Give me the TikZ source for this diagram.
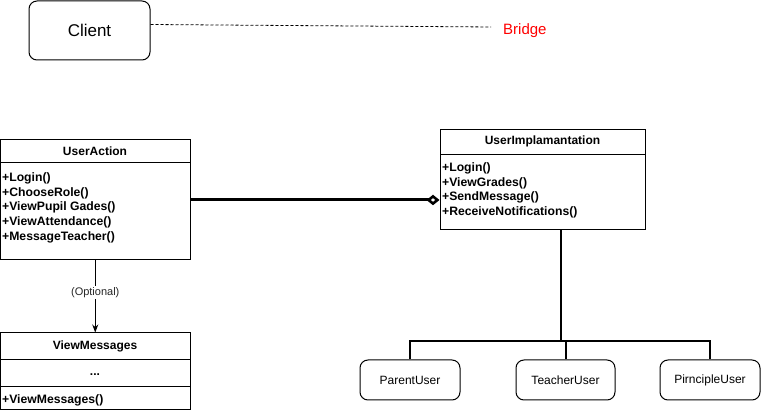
\documentclass[tikz,border=0pt]{standalone}
\usepackage{fontspec}
\setmainfont{Liberation Sans}
\usetikzlibrary{arrows.meta}
\definecolor{bridgered}{RGB}{255,0,0}
\begin{document}
\begin{tikzpicture}[x=1pt,y=-1pt,
  classbox/.style={draw=black,line width=1pt,rectangle,inner sep=0pt},
  roundbox/.style={draw=black,line width=1pt,rectangle,rounded corners=8pt,inner sep=0pt,font=\fontsize{12}{14}\selectfont},
  classtitle/.style={font=\fontsize{12}{14}\selectfont\bfseries,inner sep=0pt},
  methods/.style={font=\fontsize{12.2}{14.7}\selectfont\bfseries,align=left,inner sep=0pt,anchor=north west},
  divider/.style={line width=1pt},
  thickline/.style={line width=3pt},
  treeline/.style={line width=2pt}
]
\useasboundingbox (0,0) rectangle (761,411);

% Client and Bridge
\node[roundbox,minimum width=121pt,minimum height=59pt,font=\fontsize{17}{20}\selectfont] (client) at (89.5,30.5) {Client};
\node[text=bridgered,font=\fontsize{15}{18}\selectfont,anchor=west,inner sep=0pt] (bridge) at (503,31) {Bridge};
\coordinate (bridgeend) at (491,27);
\draw[dashed,line width=0.8pt,dash pattern=on 3pt off 2pt] (client.east) ++(0,-6) -- (bridgeend);

% UserAction
\node[classbox,minimum width=189.5pt,minimum height=120pt] (ua) at (95.25,200) {};
\draw[divider] (0.5,163) -- (190,163);
\node[classtitle] (uatitle) at (95,151.5) {UserAction};
\node[methods] (uamethods) at (2,172.5) {+Login()\\+ChooseRole()\\+ViewPupil Gades()\\+ViewAttendance()\\+MessageTeacher()};

% UserImplamantation
\node[classbox,minimum width=205pt,minimum height=100pt] (ui) at (542.5,180) {};
\draw[divider] (440,155) -- (645,155);
\node[classtitle] (uititle) at (542.5,141.5) {UserImplamantation};
\node[methods] (uimethods) at (442,162.5) {+Login()\\+ViewGrades()\\+SendMessage()\\+ReceiveNotifications()};

% ViewMessages
\node[classbox,minimum width=189.5pt,minimum height=77pt] (vm) at (95.25,371.5) {};
\draw[divider] (0.5,360) -- (190,360);
\draw[divider] (0.5,387) -- (190,387);
\node[classtitle] (vmtitle) at (95,346.5) {ViewMessages};
\node[classtitle] (vmdots) at (95,374.5) {...};
\node[methods,anchor=west] (vmmethods) at (2,400.5) {+ViewMessages()};

% Children
\node[roundbox,minimum width=100pt,minimum height=40pt] (pu) at (410,380) {ParentUser};
\node[roundbox,minimum width=99pt,minimum height=40pt] (tu) at (565.5,380) {TeacherUser};
\node[roundbox,minimum width=100pt,minimum height=40pt] (pr) at (710,380) {PirncipleUser};

% Aggregation
\draw[thickline,-{Diamond[open,length=13pt,width=10.5pt,line width=2.6pt]}] (ua.east) -- (ui.west |- ua.east);

% Optional dependency
\draw[line width=1pt,-{Stealth[length=8pt,width=6pt]}] (ua.south) -- node[pos=0.44,fill=white,inner sep=1.5pt,font=\fontsize{11}{13}\selectfont,text=black!85] {(Optional)} (vm.north);

% Inheritance tree
\coordinate (tx) at (561,341);
\draw[treeline] (tx |- ui.south) -- (tx);
\draw[treeline] (pu.north) |- (tx) -| (pr.north);
\draw[treeline] (tu.north) -- (tu.north |- tx);
\end{tikzpicture}
\end{document}
